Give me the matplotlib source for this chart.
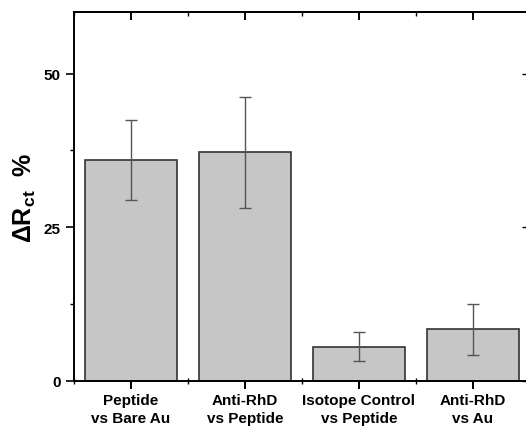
import matplotlib
matplotlib.use("Agg")
from matplotlib import pyplot as plt
from matplotlib.ticker import MultipleLocator

plt.rcParams['font.family'] = ['Liberation Sans', 'DejaVu Sans']
plt.rcParams['font.weight'] = 'bold'
plt.rcParams['mathtext.fontset'] = 'custom'
plt.rcParams['mathtext.rm'] = 'Liberation Sans:bold'
plt.rcParams['mathtext.bf'] = 'Liberation Sans:bold'

categories = ['Peptide\nvs Bare Au', 'Anti-RhD\nvs Peptide',
              'Isotope Control\nvs Peptide', 'Anti-RhD\nvs Au']
values = [35.9, 37.2, 5.6, 8.4]
errors = [6.5, 9.0, 2.35, 4.15]

x = [1, 2, 3, 4]

fig = plt.figure(figsize=(5.26, 4.27), dpi=100)
# axes runs slightly past the right edge, like the cropped original
ax = fig.add_axes([74 / 526, 1 - 382 / 427, 456 / 526, 369 / 427])

ax.bar(x, values, width=0.8, color='#c6c6c6', edgecolor='#333333', linewidth=1.2, zorder=2)
ax.errorbar(x, values, yerr=errors, fmt='none', ecolor='#555555', elinewidth=1,
            capsize=4, capthick=1, zorder=3)

ax.set_xlim(0.5, 4.5)
ax.set_ylim(0, 60)
ax.set_xticks(x)
ax.set_xticklabels(categories, fontsize=11, fontweight='bold', linespacing=1.35)
ax.xaxis.set_minor_locator(MultipleLocator(0.5))
ax.yaxis.set_major_locator(MultipleLocator(25))
ax.yaxis.set_minor_locator(MultipleLocator(12.5))
for t in ax.get_yticklabels():
    t.set_fontsize(11)
    t.set_fontweight('bold')

for s in ax.spines.values():
    s.set_linewidth(1.4)

ax.tick_params(axis='x', which='major', direction='out', length=6, width=1.4, pad=3)
ax.tick_params(axis='x', which='minor', direction='inout', length=4, width=1)
ax.tick_params(axis='y', which='major', direction='out', length=6, width=1.2)
ax.tick_params(axis='y', which='minor', direction='out', length=3, width=1)

# top axis: inward ticks, no labels
top = ax.secondary_xaxis('top')
top.set_xticks(x)
top.xaxis.set_minor_locator(MultipleLocator(0.5))
top.tick_params(which='major', direction='in', length=6, width=1.4, labeltop=False)
top.tick_params(which='minor', direction='in', length=3, width=1)
top.spines['top'].set_linewidth(1.4)

# right axis: inward ticks, no labels
right = ax.secondary_yaxis('right')
right.yaxis.set_major_locator(MultipleLocator(25))
right.tick_params(which='major', direction='in', length=6, width=1, labelright=False)
right.spines['right'].set_linewidth(1.4)

ax.set_ylabel(r'$\mathbf{\Delta R_{ct}}$  %', fontsize=18, fontweight='bold', labelpad=4)

fig.savefig("out.png", dpi=100)
